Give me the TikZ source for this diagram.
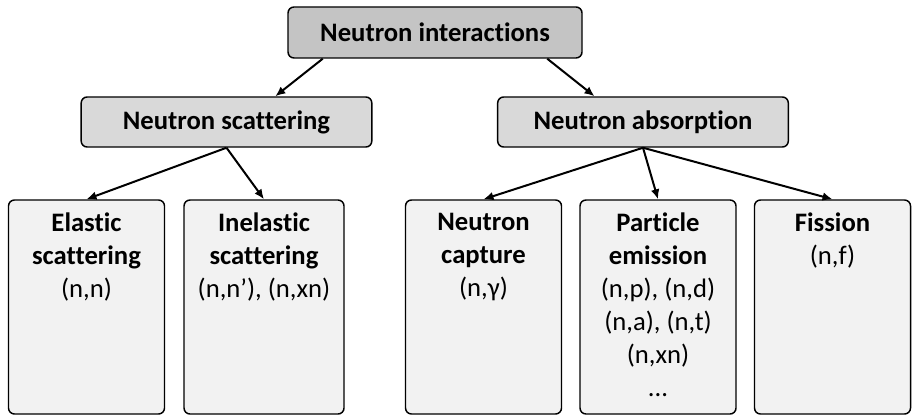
\documentclass[tikz,border=0pt]{standalone}
\usepackage{fontspec}
\setmainfont{Carlito}[Ligatures=NoCommon]
\usetikzlibrary{arrows.meta,calc}
\tikzset{
  topbox/.style={draw=black, line width=1.1pt, rounded corners=4.5pt, fill=black!23,
    minimum width=220.5pt, minimum height=38.25pt, inner sep=0pt,
    font=\bfseries\fontsize{20}{24}\selectfont},
  midbox/.style={topbox, fill=black!15, minimum width=218pt, minimum height=37.5pt},
  leafbox/.style={draw=black, line width=1.1pt, rounded corners=4.5pt, fill=black!5,
    minimum width=117pt, minimum height=160.5pt, inner sep=0pt},
  leaftext/.style={anchor=north, align=center, inner sep=0pt, yshift=-10pt,
    font=\fontsize{20}{24.8}\selectfont},
  link/.style={line width=1.5pt, -{Latex[length=7.5pt,width=6.5pt]}}
}
\begin{document}
\begin{tikzpicture}[x=0.75pt, y=-0.75pt]
  \useasboundingbox (0,0) rectangle (912,417);
      %
      \node [topbox] (inter) at (435, 32.5) {Neutron interactions};
      \node [midbox] (scat) at (226.5, 122) {Neutron scattering};
      \node [midbox] (absorb) at (643, 122) {Neutron absorption};
      %
      \node [leafbox] (elastic) at (86.5, 307) {};
      \node [leafbox, minimum width=120pt] (inelastic) at (264, 307) {};
      \node [leafbox] (capture) at (483.5, 307) {};
      \node [leafbox] (particle) at (658, 307) {};
      \node [leafbox] (fission) at (832.5, 307) {};
      %
      \node [leaftext] (elastic-t) at (elastic.north) {\textbf{Elastic}\\\textbf{scattering}\\(n,n)};
      \node [leaftext] (inelastic-t) at (inelastic.north) {\textbf{Inelastic}\\\textbf{scattering}\\(n,n’), (n,xn)};
      \node [leaftext] (capture-t) at (capture.north) {\textbf{Neutron}\\\textbf{capture}\\(n,γ)};
      \node [leaftext] (particle-t) at (particle.north) {\textbf{Particle}\\\textbf{emission}\\(n,p), (n,d)\\(n,a), (n,t)\\(n,xn)\\...};
      \node [leaftext] (fission-t) at (fission.north) {\textbf{Fission}\\(n,f)};
      %
      \draw [link] ($(inter.south west)!.12!(inter.south east)$) -- ($(scat.north west)!.667!(scat.north east)$);
      \draw [link] ($(inter.south west)!.88!(inter.south east)$) -- ($(absorb.north west)!.334!(absorb.north east)$);
      %
      \draw [link] (scat.south) -- (elastic.north);
      \draw [link] (scat.south) -- (inelastic.north);
      \draw [link] (absorb.south) -- (capture.north);
      \draw [link] (absorb.south) -- (particle.north);
      \draw [link] (absorb.south) -- (fission.north);
\end{tikzpicture}
\end{document}
